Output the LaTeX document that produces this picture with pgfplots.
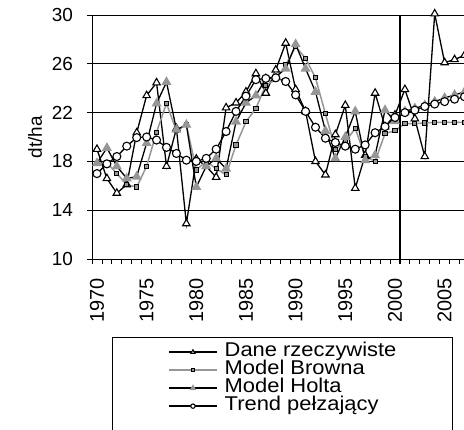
\documentclass[border=0pt]{standalone}
\usepackage{fontspec}
\setmainfont{Liberation Sans}
\newfontfamily\legfont{Liberation Sans}[FakeStretch=1.1]
\usepackage{pgfplots}
\pgfplotsset{compat=1.18}
\usepackage{pgfplotstable}
\definecolor{mgray}{RGB}{150,150,150}
\pgfplotstableread{
year Dane Browna Holta Trend
1970 19.0 17.8 17.85 17.0
1971 16.6 17.9 19.1 17.8
1972 15.4 17.0 17.6 18.4
1973 16.1 16.1 16.6 19.25
1974 20.35 15.9 16.75 19.95
1975 23.4 17.6 19.5 20.0
1976 24.45 20.4 22.75 19.75
1977 17.6 22.75 24.5 19.15
1978 20.7 20.5 20.6 18.65
1979 12.9 21.0 21.0 18.1
1980 18.2 17.3 15.9 18.0
1981 17.6 18.0 17.6 18.25
1982 16.7 17.4 18.25 19.0
1983 22.4 16.9 17.4 20.45
1984 22.8 19.35 21.25 22.1
1985 23.7 21.25 22.8 23.35
1986 25.2 22.35 23.4 24.7
1987 23.6 24.25 24.8 24.8
1988 25.5 24.7 24.95 24.85
1989 27.7 25.9 25.6 24.55
1990 23.9 27.4 27.6 23.45
1991 22.1 26.45 25.6 22.1
1992 18.0 24.85 23.7 20.8
1993 16.9 21.9 20.5 19.9
1994 20.2 19.0 18.25 19.55
1995 22.6 19.6 20.0 19.25
1996 15.8 20.7 22.1 19.0
1997 18.5 18.4 18.1 19.35
1998 23.6 18.0 18.5 20.35
1999 20.85 20.3 22.2 20.85
2000 21.8 20.5 21.3 21.6
2001 23.9 21.1 22.1 22.0
2002 21.5 21.1 22.35 22.2
2003 18.4 21.15 22.6 22.5
2004 30.1 21.2 22.9 22.7
2005 26.1 21.2 23.2 22.9
2006 26.35 21.2 23.45 23.1
2007 26.7 21.2 23.7 23.3
}\data
\begin{document}
\begin{tikzpicture}
\path[use as bounding box] (0,0) rectangle (464bp,430bp);
\clip (0,0) rectangle (464bp,430bp);
\fill[white] (0,0) rectangle (464bp,430bp);
\begin{axis}[
  at={(92bp,171bp)}, anchor=south west,
  scale only axis, width=372bp, height=244bp,
  xmin=1969.5, xmax=2006.95, ymin=10, ymax=30,
  clip=false,
  axis x line*=bottom, axis y line*=left,
  axis line style={-, line width=0.8bp, black},
  ytick={10,14,...,30},
  xtick={1970,1975,...,2005},
  minor xtick={1969.5,1970.5,...,2007.5},
  tick align=outside,
  major tick length=5bp, minor tick length=5bp,
  major x tick style={draw=none},
  major y tick style={black, line width=0.8bp},
  minor x tick style={black, line width=0.8bp},
  ymajorgrids, grid style={black, line width=0.8bp},
  /pgf/number format/assume math mode=true,
  xticklabel style={rotate=90, anchor=east, /pgf/number format/1000 sep={}, inner sep=0pt, font=\fontsize{20}{20}\selectfont},
  xticklabel shift=14bp,
  yticklabel style={anchor=east, inner sep=0pt, font=\fontsize{19}{19}\selectfont},
  yticklabel shift=14bp,
  ylabel={dt/ha},
  ylabel style={at={(axis description cs:-0.153,0.5)}, anchor=center, font=\fontsize{19}{19}\selectfont},
  legend style={draw=none, fill=none, at={(axis description cs:0.2043,-0.344)}, anchor=north west,
    inner sep=0pt, font=\legfont\fontsize{20}{18}\selectfont, row sep=0pt,
    nodes={inner sep=0pt, text height=13.5bp, text depth=4.5bp},
    /tikz/every odd column/.append style={column sep=7bp},
    cells={anchor=west}},
  legend image code/.code={\draw[#1, /tikz/every mark/.append style={scale=0.55}, mark repeat=2, mark phase=2] plot coordinates {(0bp,0bp) (24bp,0bp) (48bp,0bp)};},
]
\addplot[black, line width=1.3bp, mark=triangle*, mark size=4.3bp, mark options={fill=white, solid, line width=1.1bp}] table[x=year, y=Dane] {\data};
\addlegendentry{Dane rzeczywiste}
\addplot[mgray, line width=1.5bp, mark=square*, mark size=2.1bp, mark options={draw=black, fill=mgray, line width=1bp}] table[x=year, y=Browna] {\data};
\addlegendentry{Model Browna}
\addplot[black, line width=1.3bp, mark=triangle*, mark size=4.5bp, mark options={fill=mgray, draw=mgray}] table[x=year, y=Holta] {\data};
\addlegendentry{Model Holta}
\addplot[black, line width=1.3bp, mark=*, mark size=4bp, mark options={fill=white, line width=1.1bp}] table[x=year, y=Trend] {\data};
\addlegendentry{Trend pełzający}
\draw[black, line width=2bp] (axis cs:2000.5,9.6) -- (axis cs:2000.5,30);
\end{axis}
\draw[black, line width=0.8bp] (112bp,93bp) rectangle (452bp,-20bp);
\end{tikzpicture}
\end{document}
